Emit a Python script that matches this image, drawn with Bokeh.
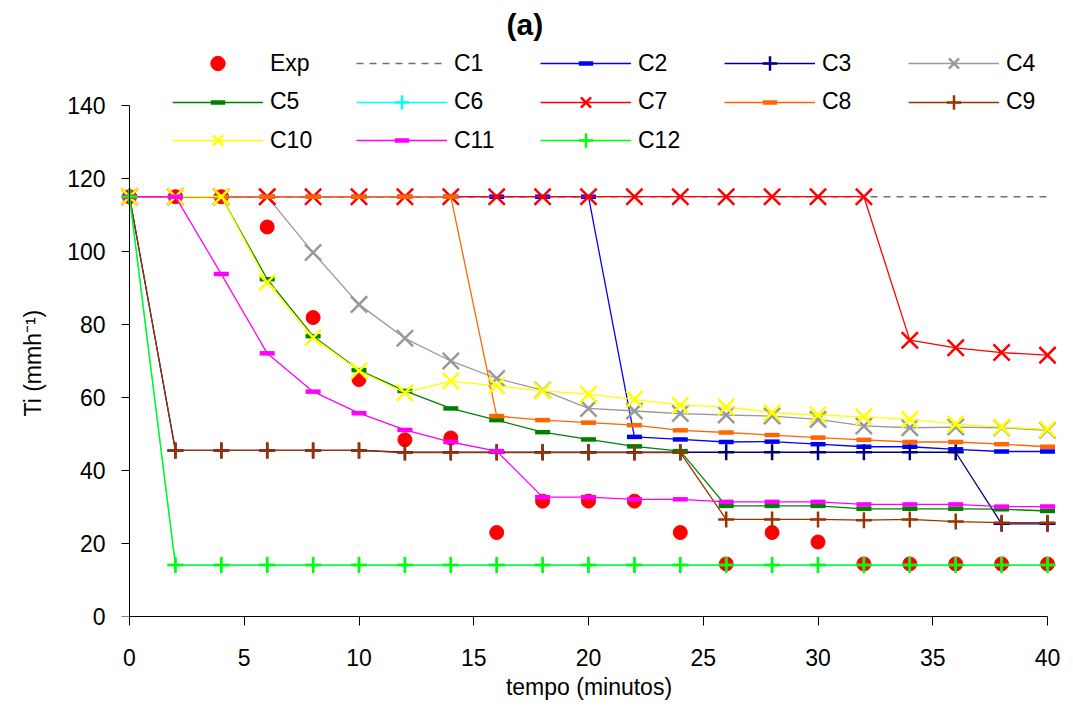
from bokeh.plotting import figure
from bokeh.models import Range1d, Legend, LegendItem, Label, FixedTicker, LinearAxis, Title
from bokeh.embed import file_html
from bokeh.resources import INLINE

# ---------------- data ----------------
tempo = [0, 2, 4, 6, 8, 10, 12, 14, 16, 18, 20, 22, 24, 26, 28, 30, 32, 34, 36, 38, 40]

exp = [115, 115, 115, 106.7, 81.9, 64.9, 48.4, 48.9, 23.0, 31.6, 31.6, 31.6, 23.0, 14.4, 23.0, 20.4, 14.4, 14.4, 14.4, 14.4, 14.4]
c1 = [115, 115, 115, 115, 115, 115, 115, 115, 115, 115, 115, 115, 115, 115, 115, 115, 115, 115, 115, 115, 115]
c2 = [115, 115, 115, 115, 115, 115, 115, 115, 115, 115, 115, 49.2, 48.5, 47.8, 47.9, 47.2, 46.5, 46.5, 45.8, 45.2, 45.2]
c3 = [115, 45.5, 45.5, 45.5, 45.5, 45.5, 45.0, 45.0, 45.0, 45.0, 45.0, 45.0, 45.0, 45.0, 45.0, 45.0, 45.0, 45.0, 45.0, 25.4, 25.4]
c4 = [115, 115, 115, 115, 99.7, 85.5, 76.2, 70.0, 65.2, 62.0, 57.0, 56.3, 55.6, 55.2, 54.9, 54.0, 52.2, 51.7, 51.9, 51.7, 51.0]
c5 = [115, 115, 115, 92.4, 76.8, 67.5, 61.8, 57.0, 53.8, 50.5, 48.5, 46.6, 45.3, 30.3, 30.3, 30.3, 29.5, 29.5, 29.5, 29.4, 28.9]
c6 = [115, 14.1, 14.1, 14.1, 14.1, 14.1, 14.1, 14.1, 14.1, 14.1, 14.1, 14.1, 14.1, 14.1, 14.1, 14.1, 14.1, 14.1, 14.1, 14.1, 14.1]
c7 = [115, 115, 115, 115, 115, 115, 115, 115, 115, 115, 115, 115, 115, 115, 115, 115, 115, 75.7, 73.6, 72.3, 71.6]
c8 = [115, 115, 115, 115, 115, 115, 115, 115, 54.9, 53.8, 53.1, 52.4, 51.0, 50.4, 49.7, 49.0, 48.4, 47.8, 47.8, 47.2, 46.5]
c9 = [115, 45.5, 45.5, 45.5, 45.5, 45.5, 44.9, 44.9, 44.9, 44.9, 44.9, 44.9, 44.9, 26.6, 26.6, 26.6, 26.4, 26.6, 26.0, 25.7, 25.7]
c10 = [115, 115, 115, 91.5, 76.4, 67.3, 61.3, 64.5, 63.2, 61.8, 60.9, 59.5, 57.9, 57.4, 55.8, 55.2, 54.7, 54.0, 52.7, 51.9, 51.3]
c11 = [115, 115, 93.8, 72.1, 61.6, 55.7, 51.1, 47.8, 45.3, 32.7, 32.7, 32.1, 32.1, 31.4, 31.4, 31.4, 30.7, 30.7, 30.7, 30.1, 30.1]
c12 = [115, 14.1, 14.1, 14.1, 14.1, 14.1, 14.1, 14.1, 14.1, 14.1, 14.1, 14.1, 14.1, 14.1, 14.1, 14.1, 14.1, 14.1, 14.1, 14.1, 14.1]

series_names = ["C1", "C2", "C3", "C4", "C5", "C6", "C7", "C8", "C9", "C10", "C11", "C12"]
series_values = [c1, c2, c3, c4, c5, c6, c7, c8, c9, c10, c11, c12]

x_ticks = [0, 5, 10, 15, 20, 25, 30, 35, 40]
y_ticks = [0, 20, 40, 60, 80, 100, 120, 140]

# ---------------- styles ----------------
FONT = "Liberation Sans"
colors = ["#6e6e6e", "#0000ff", "#000080", "#999999", "#008000", "#00ffff",
          "#ff0000", "#ff6600", "#993300", "#ffff00", "#ff00ff", "#00ff00"]
markers = [None, "dash", "cross", "x", "dash", "cross", "x", "dash", "cross", "x", "dash", "cross"]
marker_size = {"dash": 15, "cross": 16, "x": 23}
marker_lw = {"dash": 4.5, "cross": 2.5, "x": 2.5}

p = figure(width=1060, height=704, output_backend="svg", toolbar_location=None,
           x_range=Range1d(-0.349, 40.392), y_range=Range1d(0, 168.2),
           min_border_left=121, min_border_right=4, min_border_top=2, min_border_bottom=88)
p.outline_line_color = None
p.xgrid.visible = False
p.ygrid.visible = False
p.background_fill_color = "white"

for ax in (p.xaxis[0], p.yaxis[0]):
    ax.axis_line_color = "black"
    ax.major_tick_line_color = "black"
    ax.minor_tick_line_color = None
    ax.major_tick_in = 0
    ax.major_tick_out = 9
    ax.major_label_text_font = FONT
    ax.major_label_text_font_size = "23px"
    ax.major_label_text_color = "black"
    ax.axis_label_text_font = FONT
    ax.axis_label_text_font_size = "23px"
    ax.axis_label_text_font_style = "normal"
    ax.axis_label_text_color = "black"

p.xaxis.ticker = FixedTicker(ticks=x_ticks)
p.xaxis.bounds = (0, 40)
p.xaxis.axis_label = "tempo (minutos)"
p.xaxis.major_label_standoff = 23
p.xaxis.axis_label_standoff = 5

# left axis: tick labels only (at the frame edge, 8px left of x = 0)
yax = p.yaxis[0]
yax.ticker = FixedTicker(ticks=y_ticks)
yax.bounds = (0, 140)
yax.axis_line_color = None
yax.major_tick_line_color = None
yax.major_label_standoff = 7

# y-axis title, placed along the 0-140 span
ytitle = Title(text="Ti (mmh\u207b\u00b9)", align="left", vertical_align="middle", offset=200,
               standoff=35, text_font=FONT, text_font_size="23px", text_font_style="normal",
               text_color="black")
p.add_layout(ytitle, "left")

# axis line and ticks drawn exactly at x = 0 (inward ticks of a right-side axis point left)
yline = LinearAxis(fixed_location=0, ticker=FixedTicker(ticks=y_ticks), bounds=(0, 140),
                   axis_line_color="black", major_tick_line_color="black",
                   minor_tick_line_color=None, major_tick_in=9, major_tick_out=0,
                   major_label_overrides={t: "" for t in y_ticks},
                   major_label_text_font=FONT, major_label_text_font_size="23px",
                   major_label_standoff=0)
p.add_layout(yline, "right")

# experimental points first (drawn underneath)
r_exp = p.scatter(tempo, exp, marker="circle", size=14, fill_color="#ff0000", line_color="#ff0000")
items = [LegendItem(label="Exp", renderers=[r_exp])]

for name, vals, col, mk in zip(series_names, series_values, colors, markers):
    rs = []
    if mk is None:
        rl = p.line(tempo, vals, line_color=col, line_width=1.5, line_dash="7 6")
        rs.append(rl)
    else:
        rl = p.line(tempo, vals, line_color=col, line_width=1.3)
        rm = p.scatter(tempo, vals, marker=mk, size=marker_size[mk], line_color=col,
                       fill_color=col, line_width=marker_lw[mk])
        rs += [rl, rm]
    items.append(LegendItem(label=name, renderers=rs))

rows = [items[0:5], items[5:10], items[10:13]]
row_bottoms = [535, 496.3, 458]
for its, vy in zip(rows, row_bottoms):
    leg = Legend(items=its, orientation="horizontal", location=(51, vy),
                 glyph_width=91, glyph_height=36, label_height=36, label_standoff=7,
                 label_width=80, spacing=6, padding=0, margin=0,
                 border_line_color=None, background_fill_alpha=0,
                 label_text_font=FONT, label_text_font_size="23px", label_text_color="black")
    p.add_layout(leg)

title = Label(x=17.23, y=162.2, text="(a)", text_font=FONT, text_font_style="bold",
              text_font_size="30px", text_align="center", text_baseline="middle", text_color="black")
p.add_layout(title)

open("out.html", "w").write(file_html(p, INLINE))
